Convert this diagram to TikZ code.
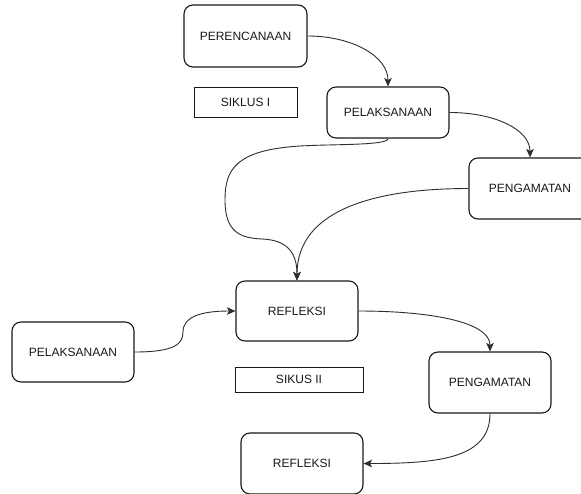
\documentclass[tikz,border=0pt]{standalone}
\usepackage{fontspec}
\setmainfont{Liberation Sans}
\usetikzlibrary{arrows.meta}
\begin{document}
\begin{tikzpicture}[x=1pt,y=-1pt,
  box/.style={draw=black!90, line width=1.1pt, rounded corners=9pt, inner sep=0pt,
    minimum width=122pt, minimum height=61pt, text=black!90,
    font=\fontsize{12}{14}\selectfont},
  lbl/.style={draw=black!90, line width=0.8pt, inner sep=0pt, text=black!90,
    font=\fontsize{12}{14}\selectfont},
  conn/.style={draw=black!82, line width=0.9pt,
    -{Stealth[length=8.5pt,width=7.5pt,inset=2pt]}}]
\fill[white] (0,0) rectangle (581,493);
\useasboundingbox (0,0) rectangle (581,493);

\node[box, minimum width=123pt, minimum height=62pt] (per) at (245.5,36) {PERENCANAAN};
\node[lbl, minimum width=103pt, minimum height=30pt] (sik1) at (245.5,102) {SIKLUS I};
\node[box, minimum height=51pt] (pel1) at (388,112.5) {PELAKSANAAN};
\node[box] (pen1) at (530,188.5) {PENGAMATAN};
\node[box, minimum height=60pt] (refl) at (297,311) {REFLEKSI};
\node[box, minimum height=60pt] (pel2) at (73,352) {PELAKSANAAN};
\node[lbl, minimum width=128pt, minimum height=25pt] (sik2) at (299,379.5) {SIKUS II};
\node[box] (pen2) at (490,382.5) {PENGAMATAN};
\node[box] (refl2) at (302,463.5) {REFLEKSI};

\coordinate (w1) at (300,146);
\coordinate (w2) at (225,200);
\coordinate (w3) at (262,239);
\coordinate (m5) at (183,332);

\draw[conn] (per.east) .. controls +(45,0) and +(0,-30) .. (pel1.north);
\draw[conn] (pel1.east) .. controls +(45,0) and +(0,-28) .. (pen1.north);
\draw[conn] (pel1.south) .. controls +(0,7) and +(35,-2) .. (w1)
  .. controls +(-65,4) and +(0,-30) .. (w2)
  .. controls +(0,32) and +(-22,-1) .. (w3)
  .. controls +(25,1) and +(0,-28) .. (refl.north);
\draw[conn] (pen1.west) .. controls +(-95,0) and +(0,-70) .. (refl.north);
\draw[conn] (pel2.east) .. controls +(40,0) and +(0,12) .. (m5)
  .. controls +(0,-15) and +(-35,0) .. (refl.west);
\draw[conn] (refl.east) .. controls +(70,0) and +(0,-30) .. (pen2.north);
\draw[conn] (pen2.south) .. controls +(0,45) and +(75,0) .. (refl2.east);
\end{tikzpicture}
\end{document}
